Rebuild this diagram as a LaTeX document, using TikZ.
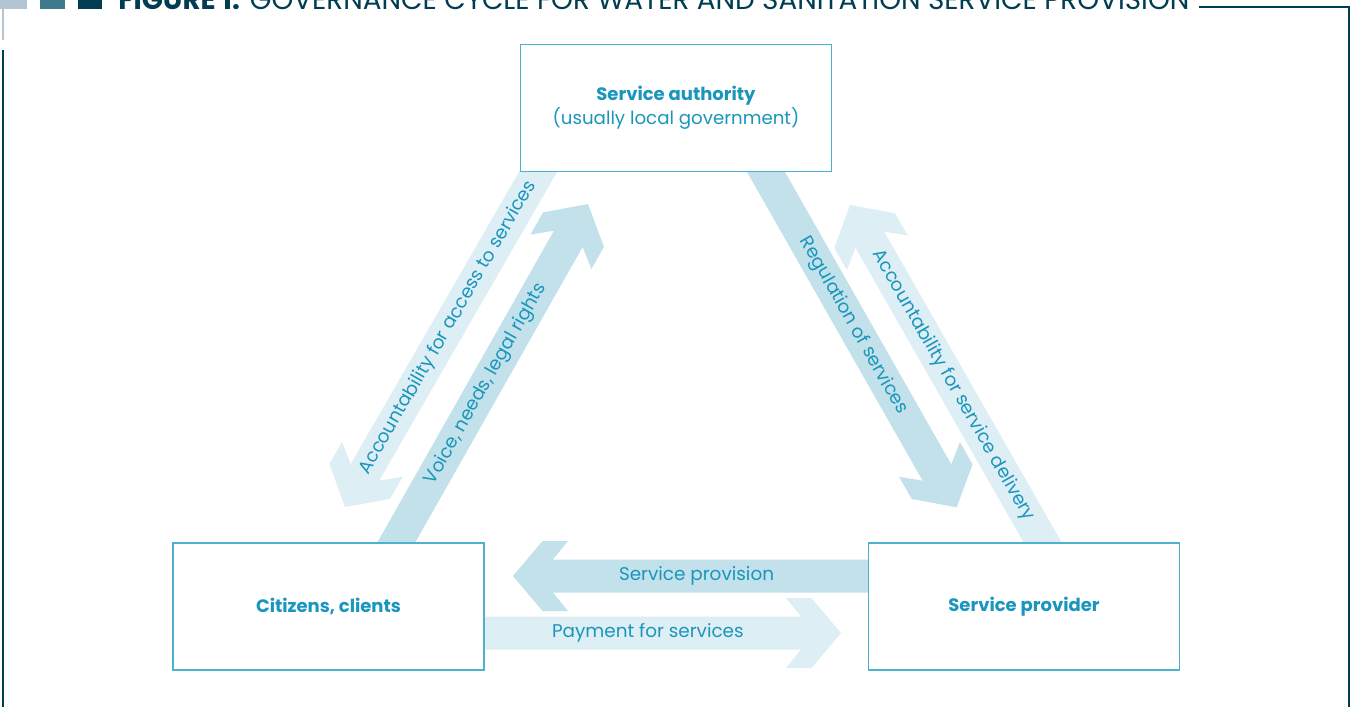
\documentclass[tikz,border=0pt]{standalone}
\usepackage{fontspec}
\setmainfont{Poppins}
\usetikzlibrary{calc,backgrounds}

\definecolor{fignavy}{HTML}{003D52}
\definecolor{figteal}{HTML}{3F7A8C}
\definecolor{figgrey}{HTML}{B3C5D2}
\definecolor{boxline}{HTML}{4EB1CD}
\definecolor{labeltext}{HTML}{1A96BC}
\definecolor{arrowdark}{HTML}{C2E1EB}
\definecolor{arrowlight}{HTML}{DDEEF5}

% fat arrow from #2 (tail) to #3 (tip)
\newcommand{\fatarrow}[3]{%
  \fill[#1] let \p1=($(#3)-(#2)$), \n1={atan2(\y1,\x1)} in
    ($(#2)+(\n1+180:5pt)+(\n1+90:8.25pt)$)
    -- ($(#3)+(\n1+180:20pt)+(\n1+90:8.25pt)$)
    -- ($(#3)+(\n1+180:27.5pt)+(\n1+90:17.5pt)$)
    -- ($(#3)+(\n1+180:14.75pt)+(\n1+90:17.5pt)$)
    -- (#3)
    -- ($(#3)+(\n1+180:14.75pt)+(\n1-90:17.5pt)$)
    -- ($(#3)+(\n1+180:27.5pt)+(\n1-90:17.5pt)$)
    -- ($(#3)+(\n1+180:20pt)+(\n1-90:8.25pt)$)
    -- ($(#2)+(\n1+180:5pt)+(\n1-90:8.25pt)$) -- cycle;}

\tikzset{
  box/.style={draw=boxline, line width=0.8pt, fill=white, minimum width=155.5pt,
    minimum height=63.5pt, align=center, text=labeltext,
    font=\bfseries\fontsize{9}{13}\selectfont},
  lbl/.style={text=labeltext, inner sep=0pt, font=\fontsize{9.2}{11}\selectfont},
}

\begin{document}
\begin{tikzpicture}[x=0.5pt, y=-0.5pt]
    \useasboundingbox (0,0) rectangle (1353,707);

    % Title and frame
    \fill[figgrey] (0,-20) rectangle (27,9);
    \fill[figteal] (40,-20) rectangle (65,9);
    \fill[fignavy] (78,-20) rectangle (102,9);
    \node[anchor=base west, inner sep=0pt, text=fignavy, font=\fontsize{13.9}{15}\selectfont] (title) at (118,9.5)
        {\textbf{FIGURE 1:} GOVERNANCE CYCLE FOR WATER AND SANITATION SERVICE PROVISION};
    \draw[fignavy, line width=0.75pt] (1199,7) -- (1349,7) -- (1349,707);
    \draw[figgrey, line width=0.75pt] (3,4) -- (3,40);
    \draw[fignavy, line width=0.75pt] (3,50) -- (3,707);

    % Boxes
    \node[box] (auth) at (676,108) {Service authority\\[-1pt]\mdseries\fontsize{9.1}{13}\selectfont (usually local government)};
    \node[box] (cit) at (328.5,606.5) {Citizens, clients};
    \node[box] (prov) at (1024,606.5) {Service provider};

    % Arrow ends
    \coordinate (acctail) at (538,172);   \coordinate (acctip) at (345,507);
    \coordinate (voicetail) at (396,543); \coordinate (voicetip) at (588,204);
    \coordinate (regtail) at (766,172);   \coordinate (regtip) at (956.7,507.3);
    \coordinate (deltail) at (1043,543);  \coordinate (deltip) at (850,205);
    \coordinate (provtail) at (868,576);  \coordinate (provtip) at (513,576);
    \coordinate (paytail) at (484,633);   \coordinate (paytip) at (841,633);

    % Arrows
    \begin{pgfonlayer}{background}
        \fatarrow{arrowlight}{acctail}{acctip}
        \fatarrow{arrowdark}{voicetail}{voicetip}
        \fatarrow{arrowdark}{regtail}{regtip}
        \fatarrow{arrowlight}{deltail}{deltip}
        \fatarrow{arrowdark}{provtail}{provtip}
        \fatarrow{arrowlight}{paytail}{paytip}
    \end{pgfonlayer}

    % Arrow labels
    \path (acctail) -- (acctip) node[lbl, pos=0.465, sloped] {Accountability for access to services};
    \path (voicetail) -- (voicetip) node[lbl, pos=0.469, sloped] {Voice, needs, legal rights};
    \path (regtail) -- (regtip) node[lbl, pos=0.458, sloped] {Regulation of services};
    \path (deltail) -- (deltip) node[lbl, pos=0.466, sloped] {Accountability for service delivery};
    \path (provtail) -- (provtip) node[lbl, pos=0.483] {Service provision};
    \path (paytail) -- (paytip) node[lbl, pos=0.459] {Payment for services};
\end{tikzpicture}
\end{document}
